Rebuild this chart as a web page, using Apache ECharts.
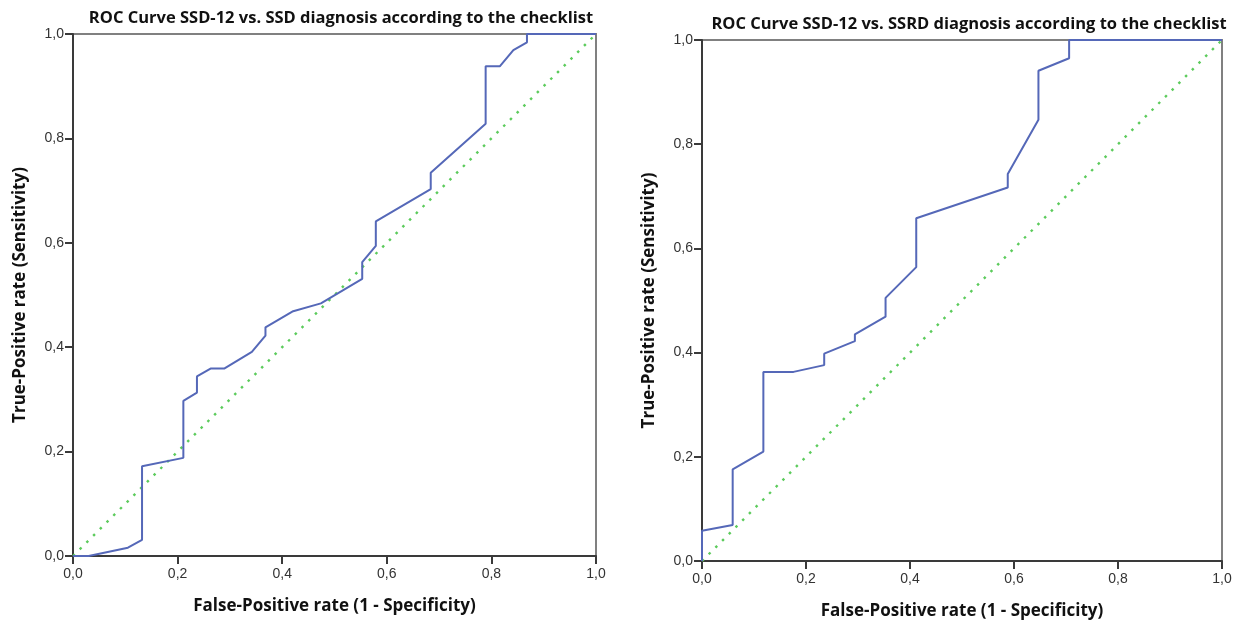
<!DOCTYPE html>
<html>
<head>
<meta charset="utf-8">
<script src="https://cdn.jsdelivr.net/npm/echarts@6/dist/echarts.min.js"></script>
<style>html,body{margin:0;padding:0;background:#fff}#c{width:1239px;height:625px}</style>
</head>
<body>
<div id="c"></div>
<script>
var tickValues = [0, 0.2, 0.4, 0.6, 0.8, 1.0];
var leftTitle = 'ROC Curve SSD-12 vs. SSD diagnosis according to the checklist';
var rightTitle = 'ROC Curve SSD-12 vs. SSRD diagnosis according to the checklist';
var xName = 'False-Positive rate (1 - Specificity)';
var yName = 'True-Positive rate (Sensitivity)';

var leftFpr = [0, 0.03, 0.105, 0.132, 0.132, 0.211, 0.211, 0.237, 0.237, 0.263, 0.289, 0.342, 0.368, 0.368, 0.421, 0.474, 0.553, 0.553, 0.579, 0.579, 0.684, 0.684, 0.789, 0.789, 0.816, 0.842, 0.868, 0.868, 1];
var leftTpr = [0, 0, 0.016, 0.031, 0.172, 0.188, 0.297, 0.313, 0.344, 0.359, 0.359, 0.391, 0.422, 0.438, 0.469, 0.484, 0.531, 0.563, 0.594, 0.641, 0.703, 0.734, 0.828, 0.938, 0.938, 0.969, 0.984, 1, 1];

var rightFpr = [0, 0, 0.059, 0.059, 0.118, 0.118, 0.176, 0.235, 0.235, 0.294, 0.294, 0.353, 0.353, 0.412, 0.412, 0.588, 0.588, 0.647, 0.647, 0.706, 0.706, 1];
var rightTpr = [0, 0.058, 0.069, 0.176, 0.210, 0.363, 0.363, 0.376, 0.398, 0.422, 0.435, 0.469, 0.505, 0.564, 0.658, 0.717, 0.743, 0.847, 0.941, 0.965, 1, 1];

var diagX = [0, 1];
var diagY = [0, 1];

function pairs(xs, ys) { return xs.map(function (x, i) { return [x, ys[i]]; }); }
function fmt(v) { return v.toFixed(1).replace('.', ','); }

var nameStyle = { fontFamily: 'Open Sans', fontWeight: 'bold', fontSize: 17, color: '#111' };
var lineSt = { color: '#3a3a3a', width: 2 };

function xAxis(gi) {
  return {
    type: 'value', gridIndex: gi, min: 0, max: 1, interval: 0.2,
    name: xName, nameLocation: 'middle', nameGap: 42,
    nameTextStyle: nameStyle,
    axisLine: { show: true, lineStyle: lineSt },
    axisTick: { show: true, length: 8, lineStyle: lineSt },
    axisLabel: { formatter: fmt, fontFamily: 'Liberation Sans', fontSize: 14, color: '#333', margin: 11 },
    splitLine: { show: false }
  };
}
function yAxis(gi) {
  return {
    type: 'value', gridIndex: gi, min: 0, max: 1, interval: 0.2,
    name: yName, nameLocation: 'middle', nameGap: 44, nameRotate: 90,
    nameTextStyle: nameStyle,
    axisLine: { show: true, lineStyle: lineSt },
    axisTick: { show: true, length: 8, lineStyle: lineSt },
    axisLabel: { formatter: fmt, fontFamily: 'Liberation Sans', fontSize: 14, color: '#333', margin: 9 },
    splitLine: { show: false }
  };
}

var chart = echarts.init(document.getElementById('c'), null, { renderer: 'canvas' });
chart.setOption({
  animation: false,
  backgroundColor: '#fff',
  title: [
    { text: leftTitle, left: 336, top: 5, textAlign: 'center',
      textStyle: { fontFamily: 'Open Sans', fontWeight: 'bold', fontSize: 16.5, color: '#111' } },
    { text: rightTitle, left: 964, top: 11, textAlign: 'center',
      textStyle: { fontFamily: 'Open Sans', fontWeight: 'bold', fontSize: 16.5, color: '#111' } }
  ],
  grid: [
    { left: 73, right: 643, top: 34, bottom: 69, show: true, borderColor: '#808080', borderWidth: 2 },
    { left: 702, right: 17, top: 40, bottom: 63, show: true, borderColor: '#808080', borderWidth: 2 }
  ],
  xAxis: [xAxis(0), xAxis(1)],
  yAxis: [yAxis(0), yAxis(1)],
  series: [
    { type: 'line', xAxisIndex: 0, yAxisIndex: 0, data: pairs(diagX, diagY), symbol: 'none',
      lineStyle: { color: '#5ccb5c', width: 2.4, type: [2.5, 7] }, z: 2 },
    { type: 'line', xAxisIndex: 0, yAxisIndex: 0, data: pairs(leftFpr, leftTpr), symbol: 'none',
      lineStyle: { color: '#5568b8', width: 2 }, z: 3 },
    { type: 'line', xAxisIndex: 1, yAxisIndex: 1, data: pairs(diagX, diagY), symbol: 'none',
      lineStyle: { color: '#5ccb5c', width: 2.4, type: [2.5, 7] }, z: 2 },
    { type: 'line', xAxisIndex: 1, yAxisIndex: 1, data: pairs(rightFpr, rightTpr), symbol: 'none',
      lineStyle: { color: '#5568b8', width: 2 }, z: 3 }
  ]
});
</script>
</body>
</html>
